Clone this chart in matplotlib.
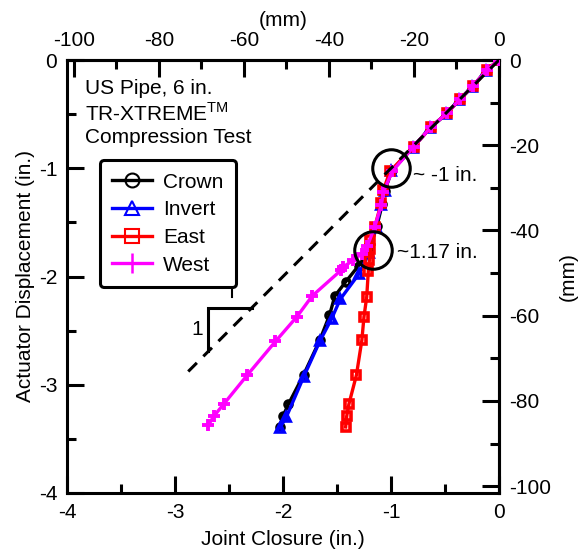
import matplotlib
matplotlib.use("Agg")
import matplotlib.pyplot as plt
from matplotlib.lines import Line2D
from matplotlib.ticker import MultipleLocator, FixedLocator

plt.rcParams["font.family"] = ["Liberation Sans", "DejaVu Sans"]
plt.rcParams["mathtext.fontset"] = "custom"
plt.rcParams["mathtext.rm"] = "Liberation Sans"
plt.rcParams["font.size"] = 15

# Joint closure (in.) vs actuator displacement (in.) for each gauge location
crown_x = [0, -0.11, -0.24, -0.36, -0.48, -0.63, -0.79, -0.99, -1.06, -1.08, -1.13,
           -1.20, -1.30, -1.42, -1.52, -1.57, -1.66, -1.81, -1.95, -2.00, -2.03]
crown_y = [0, -0.09, -0.24, -0.36, -0.49, -0.62, -0.80, -1.02, -1.21, -1.33, -1.53,
           -1.76, -1.90, -2.05, -2.18, -2.36, -2.59, -2.91, -3.18, -3.29, -3.39]

invert_x = [0, -0.12, -0.25, -0.37, -0.49, -0.64, -0.80, -1.00, -1.06, -1.09, -1.14,
            -1.20, -1.30, -1.47, -1.55, -1.66, -1.81, -1.97, -2.03]
invert_y = [0, -0.10, -0.25, -0.37, -0.50, -0.63, -0.81, -1.03, -1.21, -1.34, -1.54,
            -1.78, -1.98, -2.21, -2.39, -2.60, -2.93, -3.30, -3.40]

east_x = [0, -0.11, -0.24, -0.36, -0.48, -0.63, -0.79, -1.01, -1.07, -1.09, -1.15,
          -1.19, -1.19, -1.20, -1.21, -1.225, -1.25, -1.27, -1.32, -1.39, -1.41, -1.42]
east_y = [0, -0.09, -0.24, -0.36, -0.49, -0.62, -0.80, -1.03, -1.20, -1.32, -1.54,
          -1.66, -1.75, -1.85, -1.95, -2.19, -2.37, -2.59, -2.91, -3.18, -3.29, -3.39]

west_x = [0, -0.11, -0.24, -0.36, -0.48, -0.63, -0.79, -0.99, -1.07, -1.09, -1.15,
          -1.22, -1.27, -1.35, -1.44, -1.46, -1.73, -1.87, -2.07, -2.33, -2.55, -2.64, -2.69]
west_y = [0, -0.09, -0.24, -0.36, -0.49, -0.62, -0.80, -1.03, -1.22, -1.34, -1.54,
          -1.72, -1.79, -1.85, -1.91, -1.94, -2.18, -2.37, -2.60, -2.91, -3.18, -3.29, -3.37]

# 1:1 reference line and slope triangle
ref_x = [0, -2.9]
ref_y = [0, -2.9]
tri_x = [-2.69, -2.69, -2.29]
tri_y = [-2.69, -2.29, -2.29]

# highlighted points (in.)
circ_x = [-1.0, -1.17]
circ_y = [-1.0, -1.755]

# tick values
in_major = [-4, -3, -2, -1, 0]
in_minor = [-3.5, -2.5, -1.5, -0.5]
mm_major = [-100, -80, -60, -40, -20, 0]
mm_minor = [-90, -70, -50, -30, -10]

MM = 25.4

fig = plt.figure(figsize=(5.81, 5.54), dpi=100)
ax = fig.add_axes([67 / 581, 1 - 493 / 554, 432 / 581, 433 / 554])

lw = 2.4
ax.plot(crown_x, crown_y, color="black", lw=lw, marker="o", ms=5, mfc="none", mew=2.6, zorder=3)
ax.plot(invert_x, invert_y, color="blue", lw=lw, marker="^", ms=6, mfc="none", mew=2.6, zorder=4)
ax.plot(east_x, east_y, color="red", lw=lw, marker="s", ms=5.5, mfc="none", mew=2.6, zorder=5)
ax.plot(west_x, west_y, color="magenta", lw=lw, marker="+", ms=8, mew=2.8, zorder=6)

ax.plot(ref_x, ref_y, color="black", lw=2.2, ls=(0, (4, 3)), zorder=7)
ax.plot(tri_x, tri_y, color="black", lw=2.2, zorder=7, solid_joinstyle="miter")
ax.plot([-2.475, -2.475], [-2.06, -2.19], color="black", lw=1.5, zorder=7)
ax.text(-2.79, -2.49, "1", ha="center", va="center", fontsize=15)

ax.plot(circ_x, circ_y, ls="none", marker="o", ms=27, mfc="none", mec="black", mew=2.2, zorder=8)
ax.text(-0.795, -1.065, "~ -1 in.", ha="left", va="center", fontsize=15)
ax.text(-0.945, -1.78, "~1.17 in.", ha="left", va="center", fontsize=15)

ax.text(0.042, 0.935, "US Pipe, 6 in.", transform=ax.transAxes, ha="left", va="center")
ax.text(0.042, 0.876, r"TR-XTREME$^{\mathrm{TM}}$", transform=ax.transAxes, ha="left", va="center")
ax.text(0.042, 0.82, "Compression Test", transform=ax.transAxes, ha="left", va="center")

ax.set_xlim(-4, 0)
ax.set_ylim(-4, 0)
ax.xaxis.set_major_locator(FixedLocator(in_major))
ax.xaxis.set_minor_locator(FixedLocator(in_minor))
ax.yaxis.set_major_locator(FixedLocator(in_major))
ax.yaxis.set_minor_locator(FixedLocator(in_minor))
ax.tick_params(which="both", direction="in", width=2.2, labelsize=15)
ax.tick_params(which="major", length=12, pad=7)
ax.tick_params(which="minor", length=6.5)
ax.xaxis.set_major_formatter(plt.FuncFormatter(lambda v, p: f"{v:g}"))
ax.yaxis.set_major_formatter(plt.FuncFormatter(lambda v, p: f"{v:g}"))
for s in ax.spines.values():
    s.set_linewidth(2.2)
ax.set_xlabel("Joint Closure (in.)", fontsize=15, labelpad=6)
ax.set_ylabel("Actuator Displacement (in.)", fontsize=15, labelpad=3)

top = ax.secondary_xaxis("top", functions=(lambda v: v * MM, lambda v: v / MM))
right = ax.secondary_yaxis("right", functions=(lambda v: v * MM, lambda v: v / MM))
for sec in (top, right):
    sec.tick_params(which="both", direction="in", width=2.2, labelsize=15)
    sec.tick_params(which="major", length=12, pad=7)
    sec.tick_params(which="minor", length=6.5)
    sec.spines[:].set_linewidth(2.2)
top.xaxis.set_major_locator(FixedLocator(mm_major))
top.xaxis.set_minor_locator(FixedLocator(mm_minor))
right.yaxis.set_major_locator(FixedLocator(mm_major))
right.yaxis.set_minor_locator(FixedLocator(mm_minor))
top.xaxis.set_major_formatter(plt.FuncFormatter(lambda v, p: f"{v:g}"))
right.yaxis.set_major_formatter(plt.FuncFormatter(lambda v, p: f"{v:g}"))
top.set_xlabel("(mm)", fontsize=15, labelpad=4)
right.set_ylabel("(mm)", fontsize=15, labelpad=6)

handles = [
    Line2D([], [], color="black", lw=2.4, marker="o", ms=10, mfc="none", mew=1.5),
    Line2D([], [], color="blue", lw=2.4, marker="^", ms=10, mfc="none", mew=1.5),
    Line2D([], [], color="red", lw=2.4, marker="s", ms=10, mfc="none", mew=1.5),
    Line2D([], [], color="magenta", lw=2.4, marker="+", ms=14, mew=1.8),
]
leg = ax.legend(handles, ["Crown", "Invert", "East", "West"], loc="upper left",
                bbox_to_anchor=(0.076, 0.769), borderaxespad=0, fontsize=15,
                handlelength=1.9, handletextpad=0.55, labelspacing=0.42,
                borderpad=0.6, fancybox=True, framealpha=1)
leg.get_frame().set_edgecolor("black")
leg.get_frame().set_linewidth(2.2)
leg.set_zorder(10)

fig.savefig("out.png", dpi=100)
